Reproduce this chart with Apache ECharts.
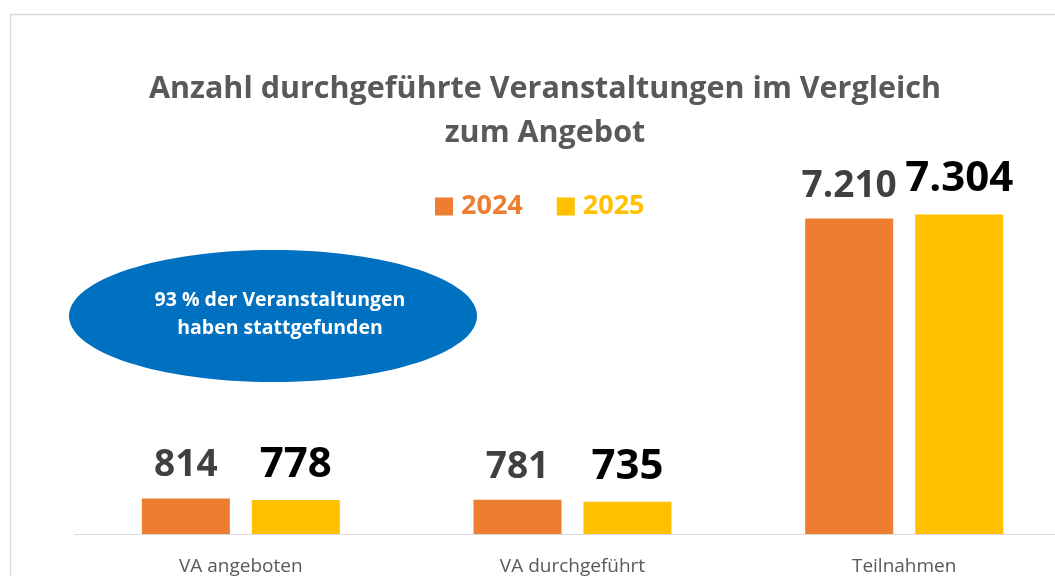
<!DOCTYPE html>
<html>
<head>
<meta charset="utf-8">
<script src="https://cdn.jsdelivr.net/npm/echarts@6/dist/echarts.min.js"></script>
<style>
  html, body { margin: 0; padding: 0; overflow: hidden; background: #fff; }
  #main { width: 1070px; height: 576px; }
</style>
</head>
<body>
<div id="main"></div>
<script>
// Daten
const categories = ['VA angeboten', 'VA durchgeführt', 'Teilnahmen'];
const values2024 = [814, 781, 7210];
const values2025 = [778, 735, 7304];
const seriesNames = ['2024', '2025'];
const titleLines = ['Anzahl durchgeführte Veranstaltungen im Vergleich', 'zum Angebot'];
const noteLines = ['93 % der Veranstaltungen', 'haben stattgefunden'];

// Tausendertrennzeichen mit Punkt
function fmt(v) {
  return String(v).replace(/\B(?=(\d{3})+(?!\d))/g, '.');
}

let font = '"Open Sans", "Liberation Sans", sans-serif';
let myChart = echarts.init(document.getElementById('main'));
let option = {
  backgroundColor: '#fff',
  animation: false,
  title: {
    text: titleLines.join('\n'),
    left: 540,
    top: 62,
    textAlign: 'center',
    textStyle: {
      fontFamily: font,
      fontSize: 30.5,
      fontWeight: 'bold',
      color: '#595959',
      lineHeight: 44
    }
  },
  legend: {
    left: 430,
    top: 188,
    itemWidth: 18,
    itemHeight: 18,
    itemGap: 34,
    icon: 'rect',
    textStyle: {
      fontFamily: font,
      fontSize: 27,
      fontWeight: 'bold',
      padding: [0, 0, 0, 3]
    }
  },
  grid: {
    left: 75,
    right: 0,
    top: 184,
    bottom: 41
  },
  xAxis: {
    type: 'category',
    data: categories,
    axisTick: { show: false },
    axisLine: { lineStyle: { color: '#d9d9d9', width: 1 } },
    axisLabel: {
      fontFamily: font,
      fontSize: 19,
      color: '#595959',
      margin: 23
    }
  },
  yAxis: {
    type: 'value',
    min: 0,
    max: 8000,
    show: false,
    splitLine: { show: false }
  },
  graphic: [
    {
      type: 'rect',
      shape: { x: 10.5, y: 14.5, width: 1100, height: 600 },
      style: { fill: 'none', stroke: '#d9d9d9', lineWidth: 1.5 },
      z: -1
    },
    {
      type: 'ellipse',
      shape: { cx: 273, cy: 316, rx: 204, ry: 66 },
      style: { fill: '#0070C0' }
    },
    {
      type: 'text',
      x: 280,
      y: 314,
      style: {
        text: noteLines.join('\n'),
        fill: '#fff',
        font: 'bold 19.5px ' + font,
        textAlign: 'center',
        textVerticalAlign: 'middle',
        lineHeight: 28
      }
    }
  ],
  series: [
    {
      name: seriesNames[0],
      type: 'bar',
      data: values2024,
      barWidth: 88,
      barGap: '25%',
      itemStyle: { color: '#ED7D31' },
      label: {
        show: true,
        position: 'top',
        distance: 14,
        fontFamily: font,
        fontSize: 37,
        fontWeight: 'bold',
        color: '#404040',
        formatter: function (p) { return fmt(p.value); }
      }
    },
    {
      name: seriesNames[1],
      type: 'bar',
      data: values2025,
      barWidth: 88,
      itemStyle: { color: '#FFC000' },
      label: {
        show: true,
        position: 'top',
        distance: 14,
        fontFamily: font,
        fontSize: 42,
        fontWeight: 'bold',
        color: '#000',
        formatter: function (p) { return fmt(p.value); }
      }
    }
  ]
};
// Legendenfarbe je Serie
option.legend.data = [
  { name: seriesNames[0], textStyle: { color: '#ED7D31' } },
  { name: seriesNames[1], textStyle: { color: '#FFC000' } }
];
myChart.setOption(option);
</script>
</body>
</html>
